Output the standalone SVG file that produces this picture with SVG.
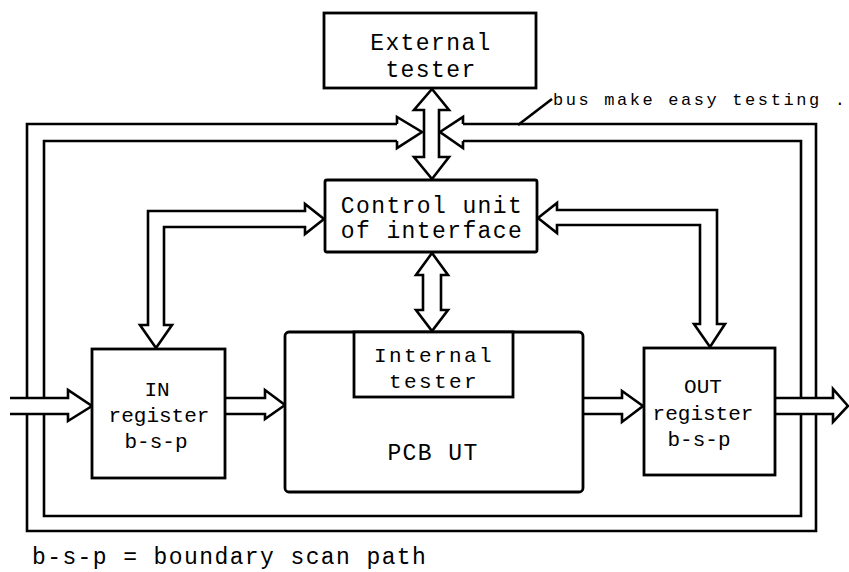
<svg xmlns="http://www.w3.org/2000/svg" width="849" height="572" viewBox="0 0 849 572">
<style>
.ln{fill:none;stroke:#000;stroke-width:2.6;stroke-linejoin:miter}
.ar{fill:#fff;stroke:#000;stroke-width:2.6;stroke-linejoin:miter}
.bx{fill:#fff;stroke:#000;stroke-width:2.8}
.t{font-family:"Liberation Mono","DejaVu Sans Mono",monospace;font-size:23px;letter-spacing:1.4px;fill:#000;text-anchor:middle}
.it{font-family:"Liberation Mono","DejaVu Sans Mono",monospace;font-size:21px;letter-spacing:2.4px;fill:#000;text-anchor:middle}
.r{font-family:"Liberation Mono","DejaVu Sans Mono",monospace;font-size:21px;letter-spacing:0px;fill:#000;text-anchor:middle}
.s{font-family:"Liberation Mono","DejaVu Sans Mono",monospace;font-size:17px;letter-spacing:2.6px;fill:#000}
.f{font-family:"Liberation Mono","DejaVu Sans Mono",monospace;font-size:23px;letter-spacing:1.4px;fill:#000}
</style>
<rect width="849" height="572" fill="#fff"/>
<g id="connectors">
  <path class="ln" d="M397,124 H27 V531 H816 V124 H463"/>
  <path class="ln" d="M397,141 H44 V516 H801 V141 H463"/>
  <path class="ar" d="M397,124 V117 L422,132 L397,148 V141"/>
  <path class="ar" d="M463,124 V117 L440,132 L463,148 V141"/>
  <path class="ar" d="M432,89 L449,110 L439,110 L439,157 L449,157 L432,179 L414,157 L424,157 L424,110 L414,110 Z"/>
  <path class="ar" d="M432,253 L448,275 L441,275 L441,310 L448,310 L432,331 L416,310 L423,310 L423,275 L416,275 Z"/>
  <path class="ar" d="M324,219 L305,234 L305,227 L164,227 L164,325 L172,325 L156,348 L140,325 L148,325 L148,211 L305,211 L305,204 Z"/>
  <path class="ar" d="M538,218 L557,203 L557,210 L717,210 L717,324 L725,324 L710,347 L694,324 L700,324 L700,225 L557,225 L557,233 Z"/>
  <path class="ar" d="M10,398 H68 V390 L92,406 L68,421 V414 H10"/>
  <path class="ar" d="M225,398 H265 V390 L285,405 L265,419 V414 H225"/>
  <path class="ar" d="M583,398 H622 V391 L643,406 L622,422 V414 H583"/>
  <path class="ar" d="M775,398 H833 V389 L848,406 L833,422 V414 H775"/>
  <path class="ln" d="M518,125 L552,99" stroke-width="2"/>
</g>
<g id="external-tester">
  <rect class="bx" x="324" y="13" width="212" height="75"/>
  <text class="t" x="431" y="50">External</text>
  <text class="t" x="431" y="77">tester</text>
</g>
<g id="control-unit">
  <rect class="bx" x="325" y="180" width="212" height="72" rx="2"/>
  <text class="t" x="432" y="213">Control unit</text>
  <text class="t" x="432" y="238">of interface</text>
</g>
<g id="pcb-ut">
  <rect class="bx" x="285" y="332" width="298" height="160" rx="4"/>
  <text class="t" x="433" y="460">PCB UT</text>
</g>
<g id="internal-tester">
  <rect class="bx" x="354" y="332" width="159" height="65"/>
  <text class="it" x="434" y="362">Internal</text>
  <text class="it" x="434" y="388">tester</text>
</g>
<g id="in-register">
  <rect class="bx" x="92" y="349" width="133" height="129"/>
  <text class="r" x="157" y="396">IN</text>
  <text class="r" x="159" y="422">register</text>
  <text class="r" x="156" y="448">b-s-p</text>
</g>
<g id="out-register">
  <rect class="bx" x="644" y="348" width="131" height="127"/>
  <text class="r" x="703" y="393">OUT</text>
  <text class="r" x="703" y="420">register</text>
  <text class="r" x="699" y="446">b-s-p</text>
</g>
<g id="bus-label">
  <text class="s" x="553" y="105">bus make easy testing .</text>
</g>
<g id="legend">
  <text class="f" x="32" y="564">b-s-p = boundary scan path</text>
</g>
</svg>
